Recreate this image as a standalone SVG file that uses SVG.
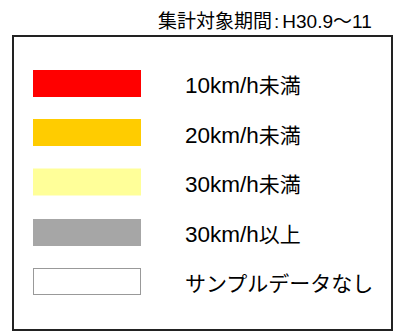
<svg xmlns="http://www.w3.org/2000/svg" width="394" height="334" viewBox="0 0 394 334">
<style>
text{font-family:"Liberation Sans","Noto Sans CJK JP",sans-serif;fill:#000}
.lbl{font-size:21px}
.lat{font-size:22.5px}
.ttl{font-size:19px}
.sw{stroke:none}
</style>
<rect width="394" height="334" fill="#fff"/>
<text class="ttl" x="158" y="28">集計対象期間<tspan dx="2">:</tspan><tspan dx="3">H30.9～11</tspan></text>
<g id="legend-frame"><rect x="13" y="36" width="379" height="294" fill="#fff" stroke="#222" stroke-width="2"/></g>
<g id="item-10"><rect class="sw" x="33" y="70" width="108" height="27" fill="#ff0000"/><text class="lbl" x="185" y="93"><tspan class="lat">10km/h</tspan>未満</text></g>
<g id="item-20"><rect class="sw" x="33" y="119" width="108" height="27" fill="#ffcc00"/><text class="lbl" x="185" y="142.5"><tspan class="lat">20km/h</tspan>未満</text></g>
<g id="item-30"><rect class="sw" x="33" y="168.5" width="108" height="27" fill="#ffff99"/><text class="lbl" x="185" y="192"><tspan class="lat">30km/h</tspan>未満</text></g>
<g id="item-30plus"><rect class="sw" x="33" y="219" width="108" height="27" fill="#a6a6a6"/><text class="lbl" x="185" y="241.5"><tspan class="lat">30km/h</tspan>以上</text></g>
<g id="item-none"><rect x="33.5" y="268.5" width="107" height="26" fill="#fff" stroke="#999" stroke-width="1"/><text class="lbl" x="185" y="291">サンプルデータなし</text></g>
</svg>
